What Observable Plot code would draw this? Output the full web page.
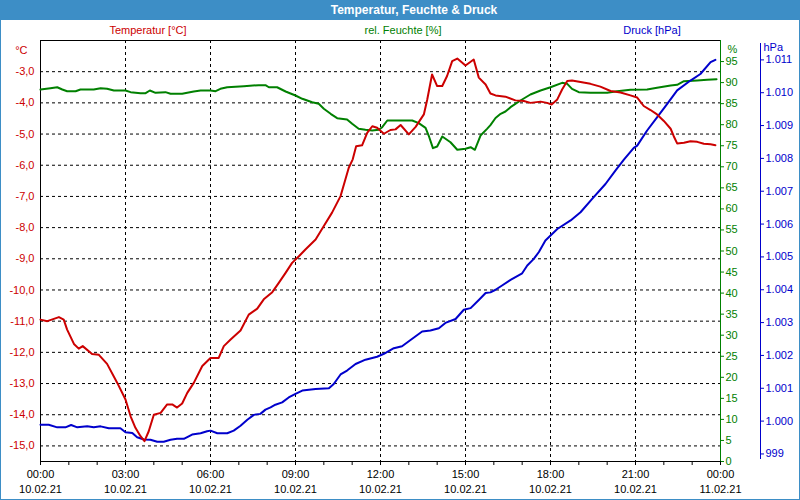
<!DOCTYPE html>
<html><head><meta charset="utf-8">
<script src="https://cdn.jsdelivr.net/npm/d3@7"></script>
<script src="https://cdn.jsdelivr.net/npm/@observablehq/plot@0.6"></script>
<style>
body{margin:0;background:#fff;font-family:"Liberation Sans",Arial,sans-serif;}
#wrap{position:relative;width:800px;height:500px;overflow:hidden;background:#fff;}
#title{height:20px;background:#3d8ec6;color:#fff;font-weight:bold;font-size:12px;line-height:20px;text-align:center;padding-left:28px;box-sizing:border-box;}
.lbl{position:absolute;top:24px;font-size:11px;line-height:13px;transform:translateX(-50%);white-space:nowrap;}
#border{position:absolute;left:0;top:0;width:800px;height:500px;box-sizing:border-box;border:1px solid #3d8ec6;pointer-events:none;}
</style></head>
<body>
<div id="wrap">
<div id="title">Temperatur, Feuchte &amp; Druck</div>
<div class="lbl" style="left:148px;color:#cc0000">Temperatur [°C]</div>
<div class="lbl" style="left:403px;color:#008000">rel. Feuchte [%]</div>
<div class="lbl" style="left:652px;color:#0000cc">Druck [hPa]</div>
<div id="chart"></div>
<div id="border"></div>
</div>
<script>
// Temperatur [°C]
const tempHours = [0.00,0.24,0.65,0.82,0.94,1.18,1.35,1.49,1.82,2.06,2.35,2.71,3.00,3.18,3.35,3.53,3.67,3.82,4.00,4.24,4.47,4.65,4.82,5.00,5.18,5.41,5.71,6.00,6.29,6.47,6.71,7.06,7.35,7.65,7.88,8.18,8.41,8.65,8.88,9.12,9.35,9.71,10.0,10.29,10.59,10.76,10.88,11.02,11.14,11.35,11.53,11.71,11.88,12.12,12.35,12.53,12.71,13.0,13.24,13.53,13.65,13.82,14.0,14.18,14.35,14.53,14.71,15.0,15.29,15.47,15.71,15.88,16.06,16.41,16.76,17.06,17.29,17.65,17.88,18.04,18.24,18.41,18.59,18.76,19.06,19.41,19.76,20.12,20.47,20.82,21.06,21.29,21.53,21.76,22.0,22.24,22.35,22.47,22.71,22.94,23.18,23.41,23.65,23.82];
const tempValues = [-10.95,-11.0,-10.87,-10.95,-11.27,-11.73,-11.88,-11.8,-12.05,-12.08,-12.37,-12.98,-13.51,-14.05,-14.42,-14.69,-14.85,-14.53,-14.0,-13.94,-13.67,-13.67,-13.77,-13.64,-13.3,-12.98,-12.44,-12.18,-12.18,-11.8,-11.59,-11.3,-10.79,-10.6,-10.3,-10.07,-9.77,-9.45,-9.13,-8.92,-8.7,-8.38,-7.95,-7.52,-6.99,-6.46,-6.08,-5.81,-5.39,-5.36,-4.96,-4.75,-4.8,-4.99,-4.87,-4.85,-4.71,-5.01,-4.77,-4.37,-3.89,-3.09,-3.46,-3.46,-3.14,-2.66,-2.58,-2.8,-2.61,-3.19,-3.41,-3.7,-3.76,-3.8,-3.92,-3.94,-4.0,-3.96,-4.0,-4.05,-3.89,-3.57,-3.3,-3.28,-3.33,-3.39,-3.48,-3.62,-3.67,-3.76,-3.83,-4.1,-4.23,-4.37,-4.58,-4.83,-5.07,-5.3,-5.28,-5.23,-5.25,-5.31,-5.33,-5.36];

// rel. Feuchte [%]
const humHours = [0,0.35,0.59,0.77,0.94,1.24,1.41,1.88,2.12,2.35,2.59,3.0,3.18,3.53,3.71,3.86,4.06,4.41,4.59,5.0,5.18,5.41,5.65,6.0,6.18,6.35,6.59,7.18,7.7,7.94,8.06,8.35,8.65,9.0,9.24,9.59,9.82,10.0,10.24,10.47,10.82,11.0,11.23,11.47,11.71,11.94,12.06,12.24,12.65,13.12,13.35,13.59,13.7,13.85,14.0,14.18,14.47,14.71,15.0,15.18,15.33,15.53,15.76,15.88,16.06,16.24,16.41,16.59,16.94,17.29,17.65,18.0,18.41,18.59,18.76,19.0,19.41,20.0,20.35,20.82,21.41,21.76,22.24,22.47,22.71,23.18,23.53,23.86];
const humValues = [88.36,88.67,88.9,88.36,87.96,87.96,88.36,88.36,88.67,88.52,88.12,88.12,87.73,87.49,87.49,88.12,87.57,87.73,87.34,87.34,87.57,87.89,88.12,88.12,87.96,88.52,88.9,89.15,89.39,89.4,88.9,88.9,87.89,86.94,86.15,85.34,84.96,83.78,82.59,81.55,81.24,80.21,79.02,78.79,78.62,78.79,79.41,81.0,81.0,81.0,80.36,79.26,77.43,74.42,74.82,77.2,75.84,74.04,74.27,74.66,74.04,77.43,79.02,79.9,81.6,82.59,83.14,84.16,85.75,87.17,88.12,88.9,89.95,89.71,88.52,87.73,87.57,87.57,87.96,88.28,88.36,88.76,89.31,89.47,90.33,90.5,90.66,90.81];

// Druck [hPa]
const presHours = [0,0.29,0.59,0.88,1.08,1.3,1.65,1.88,2.12,2.41,2.82,3.0,3.24,3.41,3.65,3.88,4.12,4.35,4.59,4.82,5.06,5.35,5.65,5.88,6.0,6.24,6.59,6.82,7.06,7.3,7.53,7.76,7.94,8.12,8.29,8.53,8.76,9.0,9.24,9.71,10.18,10.35,10.59,10.82,11.12,11.47,11.88,12.12,12.47,12.76,13.06,13.47,13.76,14.06,14.29,14.65,14.94,15.18,15.47,15.71,15.88,16.06,16.29,16.59,17.0,17.18,17.41,17.59,17.82,18.24,18.71,19.06,19.47,19.94,20.29,20.59,20.94,21.06,21.41,21.76,22.12,22.47,22.94,23.29,23.65,23.82];
const presValues = [999.89,999.89,999.81,999.81,999.88,999.81,999.84,999.81,999.84,999.78,999.78,999.66,999.64,999.51,999.44,999.43,999.37,999.37,999.43,999.46,999.46,999.59,999.63,999.69,999.71,999.63,999.63,999.71,999.86,1000.04,1000.19,1000.22,1000.35,1000.42,1000.5,1000.57,1000.72,1000.83,1000.93,1000.98,1001.0,1001.13,1001.42,1001.54,1001.74,1001.87,1001.96,1002.05,1002.22,1002.28,1002.47,1002.73,1002.76,1002.83,1002.99,1003.11,1003.39,1003.44,1003.69,1003.9,1003.92,1004.0,1004.13,1004.3,1004.5,1004.74,1004.94,1005.15,1005.5,1005.85,1006.11,1006.36,1006.77,1007.22,1007.63,1007.96,1008.32,1008.39,1008.85,1009.25,1009.66,1010.07,1010.37,1010.57,1010.93,1011.0];

// Axis ticks
const tempTicks = [-15,-14,-13,-12,-11,-10,-9,-8,-7,-6,-5,-4,-3];
const humTicks = [0,5,10,15,20,25,30,35,40,45,50,55,60,65,70,75,80,85,90,95];
const presTicks = [999,1000,1001,1002,1003,1004,1005,1006,1007,1008,1009,1010,1011];

const t0 = Date.UTC(2021, 1, 10);
const toDate = h => new Date(t0 + h * 3600e3);
const temp = tempHours.map((h, i) => ({date: toDate(h), v: tempValues[i]}));
const hum = humHours.map((h, i) => ({date: toDate(h), v: humValues[i]}));
const pres = presHours.map((h, i) => ({date: toDate(h), v: presValues[i]}));

const yDomain = [-15.5, -2];
const humToY = d3.scaleLinear([0, 100], yDomain);
const presToY = d3.scaleLinear([998.77, 1011.59], yDomain);

const hourTicks = d3.range(0, 25).map(toDate);
const majorTicks = d3.range(3, 24, 3).map(toDate);
const fmtT = d3.utcFormat("%H:%M"), fmtD = d3.utcFormat("%d.%m.%y");

const RED = "#cc0000", GREEN = "#008000", BLUE = "#0000cc";
const grid = {stroke: "#000", strokeOpacity: 1, strokeDasharray: "3,3"};

const plot = Plot.plot({
  width: 800, height: 480,
  marginTop: 20, marginBottom: 39, marginLeft: 40, marginRight: 80,
  style: {fontFamily: "Liberation Sans, Arial, sans-serif", fontSize: "11px", background: "transparent", overflow: "visible"},
  x: {type: "utc", domain: [toDate(0), toDate(24)]},
  y: {domain: yDomain},
  marks: [
    Plot.gridX(majorTicks, grid),
    Plot.gridY(tempTicks, grid),
    Plot.frame({stroke: "#000"}),
    Plot.frame({anchor: "right", stroke: GREEN}),
    Plot.frame({anchor: "right", stroke: BLUE, dx: 40, insetTop: 3, insetBottom: 3}),
    Plot.axisX(hourTicks, {tickSize: 4, tickPadding: 2, lineHeight: 1.36, label: null,
      tickFormat: d => d.getUTCHours() % 3 === 0 ? fmtT(d) + "\n" + fmtD(d) : ""}),
    Plot.axisY(tempTicks, {anchor: "left", tickSize: 0, tickPadding: 6, color: RED, label: null,
      tickFormat: d => d.toFixed(1).replace(".", ",")}),
    Plot.axisY(humTicks, {anchor: "right", y: d => humToY(d), tickSize: 3, tickPadding: 2, color: GREEN, label: null,
      tickFormat: d => String(d)}),
    Plot.axisY(presTicks, {anchor: "right", y: d => presToY(d), dx: 40, tickSize: 3, tickPadding: 2, color: BLUE, label: null,
      tickFormat: d => d >= 1000 ? "1." + String(d - 1000).padStart(3, "0") : String(d)}),
    Plot.text(["°C"], {frameAnchor: "top-left", text: d => d, dx: -13, dy: 6, textAnchor: "end", fill: RED}),
    Plot.text(["%"], {frameAnchor: "top-right", text: d => d, dx: 7, dy: 5, textAnchor: "start", fill: GREEN}),
    Plot.text(["hPa"], {frameAnchor: "top-right", text: d => d, dx: 43, dy: 3, textAnchor: "start", fill: BLUE}),
    Plot.line(hum, {x: "date", y: d => humToY(d.v), stroke: GREEN, strokeWidth: 2}),
    Plot.line(pres, {x: "date", y: d => presToY(d.v), stroke: BLUE, strokeWidth: 2}),
    Plot.line(temp, {x: "date", y: "v", stroke: RED, strokeWidth: 2})
  ]
});
document.getElementById("chart").appendChild(plot);
</script>
</body></html>
